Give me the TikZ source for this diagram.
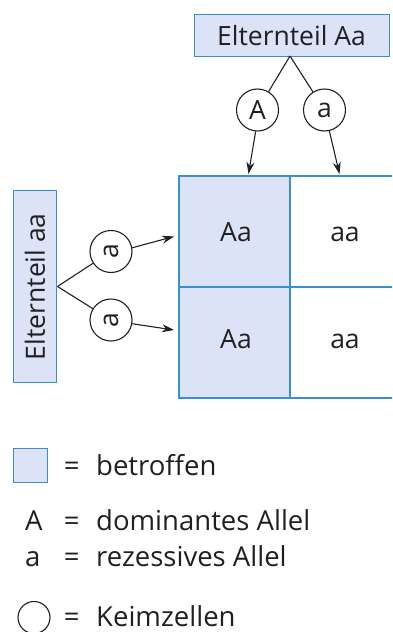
\documentclass[tikz,border=0pt]{standalone}
\usepackage{fontspec}
\setmainfont{Open Sans}
\usetikzlibrary{arrows.meta}
\definecolor{boxblue}{HTML}{3A8FD0}
\definecolor{fillblue}{HTML}{DCE3F7}
\definecolor{ink}{HTML}{231F20}
\tikzset{
  parentbox/.style={draw=boxblue, line width=1.4pt, fill=fillblue, inner sep=0pt},
  bigfont/.style={font=\fontsize{26.5}{30}\selectfont, text=ink},
  gamete/.style={circle, draw=ink, line width=1.1pt, minimum size=42pt, inner sep=0pt, bigfont},
  branch/.style={draw=ink, line width=1.1pt},
  gamarrow/.style={draw=ink, line width=1.1pt, -{Stealth[length=12pt,width=8pt]}},
  celltext/.style={bigfont, anchor=base, inner sep=0pt},
  legtext/.style={font=\fontsize{27.5}{31}\selectfont, text=ink, anchor=base west, inner sep=0pt},
  legeq/.style={font=\fontsize{27.5}{31}\selectfont, text=ink, anchor=base, inner sep=0pt},
}
\begin{document}
\begin{tikzpicture}[x=1pt,y=-1pt]
\useasboundingbox (0,0) rectangle (392,632);
\begin{scope}
\clip (0,0) rectangle (392,632);

% Punnett square
\fill[fillblue] (179,176) rectangle (290,398);
\draw[boxblue, line width=1.4pt] (179,176) rectangle (420,398);
\draw[boxblue, line width=1.4pt] (290,176) -- (290,398);
\draw[boxblue, line width=1.4pt] (179,287) -- (420,287);
\node[celltext] (c11) at (236,241.5) {Aa};
\node[celltext] (c12) at (345,241.5) {aa};
\node[celltext] (c21) at (236,348.5) {Aa};
\node[celltext] (c22) at (345,348.5) {aa};
\coordinate (in1) at (248.5,174);
\coordinate (in2) at (339.5,174);
\coordinate (in3) at (174,236.5);
\coordinate (in4) at (174,330);

% parent Aa (top)
\node[parentbox, minimum width=195pt, minimum height=42pt, anchor=north west] (pt) at (194,13.5) {};
\node[bigfont, anchor=base, inner sep=0pt] (ptl) at (291.5,45) {Elternteil Aa};
\coordinate (bt) at (290,56);
\node[gamete] (gA) at (257.5,110) {A};
\node[gamete] (ga) at (324.5,110) {a};
\draw[branch] (bt) -- (gA);
\draw[branch] (bt) -- (ga);
\draw[gamarrow] (gA.-95) -- (in1);
\draw[gamarrow] (ga.-77) -- (in2);

% parent aa (left)
\node[parentbox, minimum width=43pt, minimum height=192pt, anchor=north west] (pl) at (12.7,190) {};
\node[bigfont, rotate=90] (pll) at (pl.center) {Elternteil aa};
\coordinate (bl) at (57.5,286.5);
\node[gamete] (g1) at (111,251.5) {\rotatebox{90}{a}};
\node[gamete] (g2) at (111,320) {\rotatebox{90}{a}};
\draw[branch] (bl) -- (g1);
\draw[branch] (bl) -- (g2);
\draw[gamarrow] (g1.10) -- (in3);
\draw[gamarrow] (g2.-10) -- (in4);

% legend
\node[parentbox, minimum width=34pt, minimum height=34pt, anchor=north west] (lsq) at (12.7,448) {};
\node[legeq] (e1) at (71.7,475.5) {=};
\node[legtext] (l1) at (96,475.5) {betroffen};
\node[legtext] (lA) at (25,530) {A};
\node[legeq] (e2) at (71.7,530) {=};
\node[legtext] (l2) at (96,530) {dominantes Allel};
\node[legtext] (la) at (25,566.5) {a};
\node[legeq] (e3) at (71.7,566.5) {=};
\node[legtext] (l3) at (96,566.5) {rezessives Allel};
\node[circle, draw=ink, line width=1.1pt, minimum size=32pt, inner sep=0pt] (lc) at (34,617.5) {};
\node[legeq] (e4) at (71.7,626.5) {=};
\node[legtext] (l4) at (96,626.5) {Keimzellen};
\end{scope}
\end{tikzpicture}
\end{document}
